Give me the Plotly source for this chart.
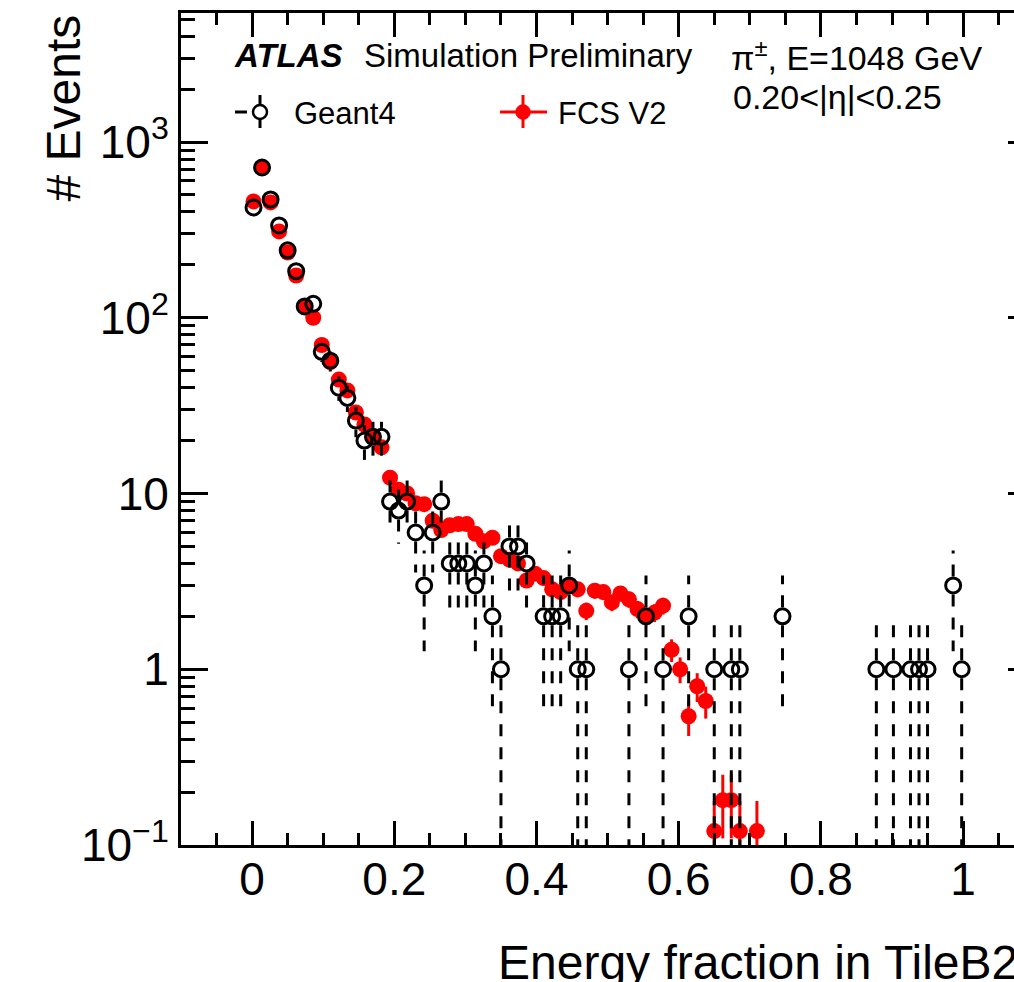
import numpy as np
import plotly.graph_objects as go

# ---------------- data ----------------
# Geant4: bin centres (bin width 0.012) and raw event counts
g4_x = [0.002, 0.014, 0.026, 0.038, 0.050, 0.062, 0.074, 0.086, 0.098, 0.110,
        0.122, 0.134, 0.146, 0.158, 0.170, 0.182, 0.194, 0.206, 0.218, 0.230,
        0.242, 0.254, 0.266, 0.278, 0.290, 0.302, 0.314, 0.326, 0.338, 0.350,
        0.362, 0.374, 0.386, 0.410, 0.422, 0.434, 0.446, 0.458, 0.470, 0.530,
        0.554, 0.578, 0.614, 0.650, 0.674, 0.686, 0.746, 0.878, 0.902, 0.926,
        0.938, 0.950, 0.986, 0.998]
g4_n = [424, 716, 471, 335, 242, 184, 116, 120, 64, 57,
        40, 35, 26, 20, 21, 21, 9, 8, 9, 6,
        3, 6, 9, 4, 4, 4, 3, 4, 2, 1,
        5, 5, 4, 2, 2, 2, 3, 1, 1, 1,
        2, 1, 2, 1, 1, 1, 2, 1, 1, 1,
        1, 1, 3, 1]

# FCS V2: bin centres and weighted counts
fcs_x = [0.002, 0.014, 0.026, 0.038, 0.050, 0.062, 0.074, 0.086, 0.098, 0.110,
         0.122, 0.134, 0.146, 0.158, 0.170, 0.182, 0.194, 0.206, 0.218, 0.230,
         0.242, 0.254, 0.266, 0.278, 0.290, 0.302, 0.314, 0.326, 0.338, 0.350,
         0.362, 0.374, 0.386, 0.398, 0.410, 0.422, 0.434, 0.446, 0.458, 0.470,
         0.482, 0.494, 0.506, 0.518, 0.530, 0.542, 0.554, 0.566, 0.578, 0.590,
         0.602, 0.614, 0.626, 0.638, 0.650, 0.662, 0.674, 0.686, 0.710]
fcs_v = [459, 716, 453, 310, 235, 174, 116, 100, 70, 56,
         44.5, 38.6, 28.9, 24.7, 21.2, 18.3, 12.3, 10.5, 10.0, 8.8,
         8.7, 7.0, 6.2, 6.6, 6.7, 6.7, 5.9, 5.35, 5.6, 4.4,
         4.2, 4.0, 3.2, 3.5, 3.3, 2.85, 2.75, 3.0, 2.85, 2.15,
         2.8, 2.75, 2.4, 2.7, 2.5, 2.2, 2.0, 2.1, 2.3, 1.29,
         1.0, 0.54, 0.8, 0.66, 0.12, 0.18, 0.18, 0.12, 0.12]
fcs_event_weight = 0.028   # per-event weight -> sumw2 errors

y_tick_vals = [0.1, 1, 10, 100, 1000]
y_tick_text = ["10<sup>\u22121</sup>", "1", "10", "10<sup>2</sup>", "10<sup>3</sup>"]

# ---------------- layout geometry ----------------
W, H = 1014, 982
L, R, T, B = 181, 0, 13, 137
PX_PER_X = 711.0          # pixels per unit of x
PX_PER_DEC = 175.75       # pixels per decade of y
X_RANGE = [-0.1, -0.1 + (W - L - R) / PX_PER_X]
Y_RANGE = [-1.0, -1.0 + (H - T - B) / PX_PER_DEC]
FONT = "Liberation Sans, Arial, Helvetica, sans-serif"


def px(x):
    return (x - L) / (W - L - R)


def py(y):
    return (H - B - y) / (H - T - B)


# ---------------- error bars ----------------
g4_n_arr = np.array(g4_n, dtype=float)
g4_err = np.sqrt(g4_n_arr)
fcs_err = np.sqrt(fcs_event_weight * np.array(fcs_v))

gap = 10 ** (9.0 / PX_PER_DEC)   # keep error line outside the open marker
seg_x, seg_y = [], []
for x, n, e in zip(g4_x, g4_n_arr, g4_err):
    hi = n + e
    lo = max(n - e, 1e-3)
    if hi > n * gap:
        seg_x += [x, x, None]
        seg_y += [n * gap, hi, None]
    if lo < n / gap:
        seg_x += [x, x, None]
        seg_y += [n / gap, lo, None]

fig = go.Figure()

fig.add_trace(go.Scatter(
    x=fcs_x, y=fcs_v, mode="markers", name="FCS V2", showlegend=False,
    marker=dict(color="#ff0000", size=16, line=dict(width=0)),
    error_y=dict(type="data", array=fcs_err, color="#ff0000", thickness=3, width=0),
))
fig.add_trace(go.Scatter(
    x=seg_x, y=seg_y, mode="lines", showlegend=False, hoverinfo="skip",
    line=dict(color="black", width=3, dash="12px,11px"),
))
fig.add_trace(go.Scatter(
    x=g4_x, y=g4_n, mode="markers", name="Geant4", showlegend=False,
    marker=dict(symbol="circle-open", color="black", size=15, line=dict(width=3, color="black")),
))
# carrier for the right-hand tick axis
fig.add_trace(go.Scatter(x=[], y=[], yaxis="y2", showlegend=False))

minor_y = [m * 10.0 ** e for e in range(-1, 4) for m in range(2, 10)]

fig.update_layout(
    width=W, height=H, autosize=False,
    margin=dict(l=L, r=R, t=T, b=B, pad=0),
    paper_bgcolor="white", plot_bgcolor="white",
    font=dict(family=FONT, color="black"),
    showlegend=False,
    xaxis=dict(
        range=X_RANGE, showgrid=False, zeroline=False,
        showline=True, linecolor="black", linewidth=3, mirror="ticks",
        ticks="inside", ticklen=24, tickwidth=2.5, tickcolor="black",
        tick0=0, dtick=0.2, tickfont=dict(size=46, family=FONT),
        ticklabelstandoff=-8,
        minor=dict(dtick=0.05, tick0=0, ticks="inside", ticklen=12, tickwidth=2.5,
                   tickcolor="black", showgrid=False),
    ),
    yaxis=dict(
        type="log", range=Y_RANGE, showgrid=False, zeroline=False,
        showline=True, linecolor="black", linewidth=3, mirror=False,
        ticks="inside", ticklen=27, tickwidth=2.5, tickcolor="black",
        tickmode="array", tickvals=y_tick_vals, ticktext=y_tick_text,
        tickfont=dict(size=46, family=FONT),
        minor=dict(tickmode="array", tickvals=minor_y, ticks="inside", ticklen=14,
                   tickwidth=2.5, tickcolor="black", showgrid=False),
    ),
    yaxis2=dict(
        type="log", range=Y_RANGE, overlaying="y", side="right", anchor="x",
        showgrid=False, zeroline=False, showline=False,
        ticks="inside", ticklen=6, tickwidth=2.5, tickcolor="black",
        tickmode="array", tickvals=y_tick_vals, showticklabels=False,
    ),
)

ann = []


def text(x, y, s, size, xanchor="left", yanchor="middle", angle=0):
    ann.append(dict(x=px(x), y=py(y), xref="paper", yref="paper", text=s,
                    showarrow=False, xanchor=xanchor, yanchor=yanchor,
                    textangle=angle, font=dict(size=size, family=FONT, color="black")))


text(232, 56, "<b><i>ATLAS</i></b>", 33)
text(362, 56, "Simulation Preliminary", 33)
text(729, 56, "\u03c0<sup>\u00b1</sup>, E=1048 GeV", 34)
text(731, 97, "0.20&lt;|\u03b7|&lt;0.25", 34)
text(292, 114, "Geant4", 31)
text(556, 114, "FCS V2", 31)
text(63, 13, "# Events", 48, xanchor="center", yanchor="top", angle=-90)
text(496, 962, "Energy fraction in TileB2", 48)
fig.update_layout(annotations=ann)

# legend glyphs
shp = []


def seg(x0, y0, x1, y1, color, w=3):
    shp.append(dict(type="line", xref="paper", yref="paper", x0=px(x0), y0=py(y0),
                    x1=px(x1), y1=py(y1), line=dict(color=color, width=w)))


def circ(cx, cy, r, color, fill, w=2.5):
    shp.append(dict(type="circle", xref="paper", yref="paper",
                    x0=px(cx - r), x1=px(cx + r), y0=py(cy + r), y1=py(cy - r),
                    line=dict(color=color, width=w), fillcolor=fill))


seg(235, 112, 247, 112, "black")
seg(260, 95, 260, 128, "black")
circ(260, 112, 7, "black", "white")
seg(500, 112, 547, 112, "#ff0000")
seg(523, 95, 523, 128, "#ff0000")
circ(523, 112, 7.5, "#ff0000", "#ff0000", w=0.5)
fig.update_layout(shapes=shp)

fig.write_html("out.html", config={"displayModeBar": False})
